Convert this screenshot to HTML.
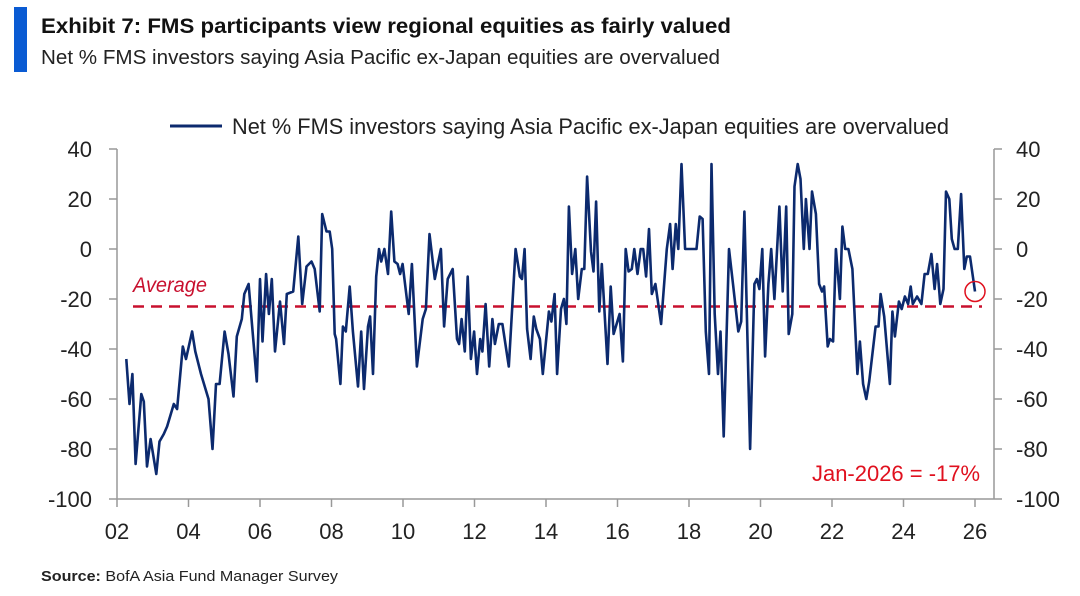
<!DOCTYPE html>
<html><head><meta charset="utf-8">
<style>
body{margin:0;background:#fff;width:1080px;height:591px;overflow:hidden;font-family:"Liberation Sans",sans-serif;}
svg text{font-family:"Liberation Sans",sans-serif;}
</style></head>
<body>
<svg id="chart" width="1080" height="591" viewBox="0 0 1080 591">
<rect x="14" y="7" width="13" height="65" fill="#0a5bd3"/>
<text x="41" y="33" font-size="21" font-weight="bold" fill="#111" textLength="690" lengthAdjust="spacingAndGlyphs">Exhibit 7: FMS participants view regional equities as fairly valued</text>
<text x="41" y="64" font-size="20" fill="#222" textLength="679" lengthAdjust="spacingAndGlyphs">Net % FMS investors saying Asia Pacific ex-Japan equities are overvalued</text>
<g id="axes"></g>
<g id="marks"></g>
<line x1="170" y1="126" x2="222" y2="126" stroke="#0c2a6e" stroke-width="3"/>
<text x="232" y="134" font-size="22" fill="#222" textLength="717" lengthAdjust="spacingAndGlyphs">Net % FMS investors saying Asia Pacific ex-Japan equities are overvalued</text>
<text x="133" y="292" font-size="21" font-style="italic" fill="#c8102e" textLength="74" lengthAdjust="spacingAndGlyphs">Average</text>
<text x="980" y="481" font-size="22" fill="#e0101e" text-anchor="end" textLength="168" lengthAdjust="spacingAndGlyphs">Jan-2026 = -17%</text>
<text x="41" y="581" font-size="15" fill="#222" textLength="297" lengthAdjust="spacingAndGlyphs"><tspan font-weight="bold">Source:</tspan> BofA Asia Fund Manager Survey</text>
</svg>
<script>
const dates=[2002.26,2002.35,2002.43,2002.52,2002.68,2002.75,2002.84,2002.94,2003.10,2003.19,2003.31,2003.40,2003.59,2003.68,2003.84,2003.93,2004.10,2004.19,2004.35,2004.56,2004.67,2004.77,2004.87,2005.01,2005.12,2005.26,2005.35,2005.49,2005.56,2005.68,2005.91,2006.00,2006.07,2006.17,2006.25,2006.33,2006.42,2006.56,2006.67,2006.75,2006.93,2007.07,2007.18,2007.30,2007.44,2007.53,2007.67,2007.74,2007.86,2007.95,2008.02,2008.09,2008.13,2008.25,2008.32,2008.40,2008.51,2008.60,2008.74,2008.83,2008.91,2009.02,2009.08,2009.16,2009.25,2009.33,2009.39,2009.48,2009.58,2009.67,2009.76,2009.85,2009.92,2009.99,2010.16,2010.25,2010.39,2010.55,2010.64,2010.74,2010.89,2011.06,2011.15,2011.25,2011.39,2011.51,2011.57,2011.64,2011.73,2011.81,2011.90,2011.99,2012.07,2012.16,2012.22,2012.31,2012.41,2012.50,2012.57,2012.68,2012.78,2012.96,2013.15,2013.27,2013.33,2013.40,2013.47,2013.57,2013.66,2013.73,2013.83,2013.91,2014.08,2014.15,2014.24,2014.31,2014.42,2014.50,2014.57,2014.64,2014.73,2014.82,2014.90,2015.00,2015.07,2015.15,2015.26,2015.33,2015.40,2015.49,2015.56,2015.72,2015.81,2015.89,2016.06,2016.15,2016.23,2016.31,2016.40,2016.47,2016.56,2016.65,2016.72,2016.80,2016.88,2016.96,2017.06,2017.22,2017.38,2017.47,2017.54,2017.63,2017.70,2017.79,2017.89,2018.21,2018.30,2018.38,2018.47,2018.56,2018.63,2018.72,2018.81,2018.88,2018.97,2019.12,2019.23,2019.38,2019.46,2019.55,2019.71,2019.83,2019.90,2019.97,2020.05,2020.13,2020.22,2020.30,2020.39,2020.53,2020.62,2020.72,2020.79,2020.89,2020.95,2021.04,2021.12,2021.21,2021.27,2021.37,2021.44,2021.55,2021.64,2021.72,2021.78,2021.88,2021.94,2022.03,2022.11,2022.22,2022.29,2022.37,2022.46,2022.57,2022.71,2022.78,2022.87,2022.96,2023.04,2023.22,2023.30,2023.36,2023.46,2023.62,2023.69,2023.76,2023.87,2023.95,2024.04,2024.13,2024.20,2024.26,2024.38,2024.50,2024.59,2024.68,2024.78,2024.87,2024.94,2025.03,2025.12,2025.19,2025.28,2025.35,2025.43,2025.52,2025.61,2025.70,2025.77,2025.86,2026.0];
const values=[-44,-62,-50,-86,-58,-61,-87,-76,-90,-77,-74,-71,-62,-64,-39,-44,-33,-41,-50,-60,-80,-54,-54,-33,-42,-59,-35,-28,-18,-14,-53,-12,-37,-10,-26,-12,-41,-21,-38,-18,-17,5,-22,-7,-5,-8,-25,14,7,7,0,-34,-36,-54,-31,-33,-15,-33,-55,-33,-56,-31,-27,-50,-11,0,-5,0,-10,15,-5,-6,-10,-6,-26,-6,-47,-28,-24,6,-12,0,-31,-12,-8,-36,-38,-28,-41,-11,-44,-33,-50,-36,-41,-22,-47,-28,-38,-30,-30,-47,0,-11,-12,0,-32,-44,-27,-32,-36,-50,-25,-29,-18,-50,-24,-20,-30,17,-10,0,-20,-8,-8,29,-1,-9,19,-25,-6,-46,-15,-34,-26,-45,0,-9,-8,0,-10,0,0,-11,8,-18,-14,-30,0,10,-8,10,0,34,0,0,13,12,-33,-50,34,-26,-50,-33,-75,0,-14,-33,-29,15,-80,-14,-12,-16,0,-43,-14,0,-20,17,-17,17,-34,-26,25,34,28,0,20,0,23,14,-14,-17,-15,-39,-36,-37,0,-20,9,0,0,-8,-50,-37,-54,-60,-53,-31,-31,-18,-27,-54,-25,-35,-21,-24,-19,-22,-15,-22,-19,-22,-10,-10,-2,-16,-6,-22,-16,23,20,4,0,0,22,-8,-3,-3,-17];
const yTicks=[40,20,0,-20,-40,-60,-80,-100];
const xTickYears=[2002,2004,2006,2008,2010,2012,2014,2016,2018,2020,2022,2024,2026];
const xTickLabels=["02","04","06","08","10","12","14","16","18","20","22","24","26"];
const averageValue=[-23];

const NS="http://www.w3.org/2000/svg";
const xs=y=>117+(y-2002)*35.75;
const ys=v=>249-v*2.5;
function mk(tag,attrs,parent,text){const e=document.createElementNS(NS,tag);for(const k in attrs)e.setAttribute(k,attrs[k]);if(text!==undefined)e.textContent=text;parent.appendChild(e);return e;}
const axes=document.getElementById('axes'),marks=document.getElementById('marks');
const L=117,R=994,T=ys(40),B=ys(-100);
let e;
e=mk('line',{x1:L,y1:T,x2:L,y2:B,stroke:'#999','stroke-width':1.5},axes);


e=mk('line',{x1:R,y1:T,x2:R,y2:B,stroke:'#999','stroke-width':1.5},axes);


e=mk('line',{x1:L,y1:B,x2:R,y2:B,stroke:'#999','stroke-width':1.5},axes);


yTicks.forEach(v=>{
 const y=ys(v);
 mk('line',{x1:L-8,y1:y,x2:L,y2:y,stroke:'#999','stroke-width':1.5},axes);
 mk('line',{x1:R,y1:y,x2:R+8,y2:y,stroke:'#999','stroke-width':1.5},axes);
 e=mk('text',{x:L-25,y:y+8,'font-size':22,fill:'#222','text-anchor':'end'},axes,String(v));
 
 
 e=mk('text',{x:R+22,y:y+8,'font-size':22,fill:'#222'},axes,String(v));
 
 
});
xTickYears.forEach((yr,i)=>{
 const x=xs(yr);
 mk('line',{x1:x,y1:B,x2:x,y2:B+8,stroke:'#999','stroke-width':1.5},axes);
 e=mk('text',{x:x,y:B+40,'font-size':22,fill:'#222','text-anchor':'middle'},axes,xTickLabels[i]);
 
 
});
e=mk('line',{x1:133,y1:ys(averageValue[0]),x2:982,y2:ys(averageValue[0]),stroke:'#c8102e','stroke-width':2.5,'stroke-dasharray':'11 7'},marks);


const pts=dates.map((d,i)=>xs(d).toFixed(1)+','+ys(values[i]).toFixed(1)).join(' ');
e=mk('polyline',{points:pts,fill:'none',stroke:'#0c2a6e','stroke-width':2.6,'stroke-linejoin':'round'},marks);


const li=dates.length-1;
e=mk('circle',{cx:xs(dates[li]),cy:ys(values[li]),r:10,fill:'none',stroke:'#e0101e','stroke-width':1.5},marks);


</script>
</body></html>
